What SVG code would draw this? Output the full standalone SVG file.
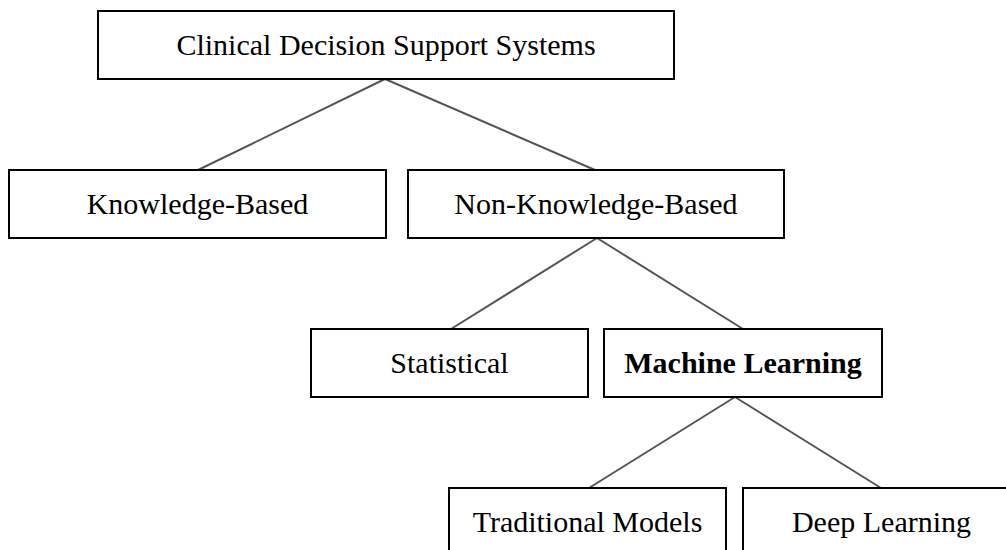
<svg xmlns="http://www.w3.org/2000/svg" width="1006" height="550" viewBox="0 0 1006 550">
<style>
rect.box{fill:#ffffff;stroke:#000000;stroke-width:2}
text{font-family:"Liberation Serif","Times New Roman",serif;font-size:30px;fill:#000000;text-anchor:middle}
text.b{font-weight:bold}
#connectors line{stroke:#555555;stroke-width:2}
</style>
<rect x="0" y="0" width="1006" height="550" fill="#ffffff"/>
<g id="connectors">
<line x1="385" y1="79" x2="198" y2="170"/>
<line x1="385" y1="79" x2="595" y2="170"/>
<line x1="597" y1="238" x2="451" y2="329"/>
<line x1="597" y1="238" x2="743" y2="329"/>
<line x1="735" y1="397" x2="589" y2="488"/>
<line x1="735" y1="397" x2="881" y2="488"/>
</g>
<g id="node-cdss"><rect class="box" x="98" y="11" width="576" height="68"/><text x="386" y="55">Clinical Decision Support Systems</text></g>
<g id="node-kb"><rect class="box" x="9" y="170" width="377" height="68"/><text x="197.5" y="214">Knowledge-Based</text></g>
<g id="node-nkb"><rect class="box" x="408" y="170" width="376" height="68"/><text x="596" y="214">Non-Knowledge-Based</text></g>
<g id="node-stat"><rect class="box" x="311" y="329" width="277" height="68"/><text x="449.5" y="373">Statistical</text></g>
<g id="node-ml"><rect class="box" x="604" y="329" width="278" height="68"/><text class="b" x="743" y="373">Machine Learning</text></g>
<g id="node-trad"><rect class="box" x="449" y="488" width="277" height="68"/><text x="587.5" y="532">Traditional Models</text></g>
<g id="node-dl"><rect class="box" x="743" y="488" width="277" height="68"/><text x="881.5" y="532">Deep Learning</text></g>
</svg>
